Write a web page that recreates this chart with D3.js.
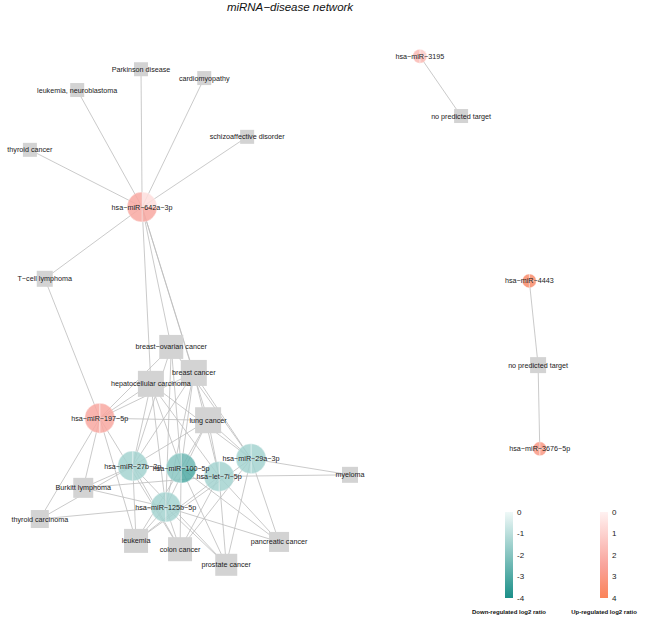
<!DOCTYPE html>
<html><head><meta charset="utf-8">
<script src="https://cdn.jsdelivr.net/npm/d3@7"></script>
<style>
body{margin:0;background:#fff}
svg{display:block}
text{font-family:"Liberation Sans",Arial,Helvetica,sans-serif}
</style>
</head><body>
<svg id="chart" width="648" height="624"></svg>
<script>
// ---------------- data ----------------
const mirnas = ["hsa−miR−642a−3p","hsa−miR−197−5p","hsa−miR−27b−3p","hsa−miR−100−5p",
  "hsa−let−7i−5p","hsa−miR−29a−3p","hsa−miR−125b−5p","hsa−miR−3195","hsa−miR−4443","hsa−miR−3676−5p"];
// log2 ratio per quadrant (clockwise from 12 o'clock)
const mirnaRatios = [
  [0.6,2.3,2.3,2.3],
  [2.3,2.3,2.3,2.3],
  [-1.4,-1.4,-1.4,-1.4],
  [-2.4,-3.0,-1.9,-1.9],
  [-1.4,-1.4,-1.4,-1.4],
  [-1.4,-1.4,-1.4,-1.4],
  [-1.4,-1.4,-1.4,-1.4],
  [1.2,1.8,1.8,1.8],
  [3.6,3.6,3.6,3.6],
  [3.0,3.0,3.0,3.0]
];
// network layout coordinates (0-100 layout space)
const mirnaLayoutX = [22.2,14.5,20.5,29.3,36.2,42.0,26.5,72.7,92.6,94.5];
const mirnaLayoutY = [30.2,70.8,80.0,80.4,82.0,78.6,87.9,1.2,44.4,76.7];

const diseases = ["Parkinson disease","cardiomyopathy","leukemia, neuroblastoma","schizoaffective disorder",
  "thyroid cancer","T−cell lymphoma","breast−ovarian cancer","breast cancer","hepatocellular carcinoma",
  "lung cancer","myeloma","Burkitt lymphoma","thyroid carcinoma","leukemia","colon cancer",
  "pancreatic cancer","prostate cancer","no predicted target","no predicted target"];
const diseaseLayoutX = [22.0,33.5,10.4,41.3,1.8,4.5,27.5,31.6,23.8,34.2,60.0,11.5,3.6,21.1,29.1,47.1,37.5,80.2,94.2];
const diseaseLayoutY = [3.7,5.4,7.7,16.7,19.2,44.0,57.1,62.1,64.2,71.2,81.7,84.2,90.2,94.4,96.0,94.6,99.0,12.7,60.6];

// miRNA index -> associated disease indices
const associations = [
  [0,1,2,3,4,5,6,7,8,9],
  [5,6,7,8,9,11,12,13,14],
  [6,7,8,9,11,12,13,14,16],
  [6,7,8,9,13,14,15,16],
  [7,8,9,10,11,13,14,15,16],
  [6,7,8,9,10,13,14,15,16],
  [6,7,8,9,11,12,13,14,15,16],
  [17],
  [18],
  [18]
];

const downTicks = [0,-1,-2,-3,-4];
const upTicks = [0,1,2,3,4];

// ---------------- drawing ----------------
const svg = d3.select("#chart");
const x = d3.scaleLinear().domain([0,100]).range([20,570]);
const y = d3.scaleLinear().domain([0,100]).range([50,570]);

const downColor = d3.scaleLinear().domain([-4,0]).range(["#1b8f88","#f0f9f8"]);
const upColor = d3.scaleLinear().domain([0,2.5,4]).range(["#fff1f1","#f9a39b","#fb8459"]);
const color = v => v < 0 ? downColor(v) : upColor(v);

const mirnaNodes = mirnas.map((name,i)=>({name, x:x(mirnaLayoutX[i]), y:y(mirnaLayoutY[i]), ratios:mirnaRatios[i], deg:associations[i].length}));
const diseaseNodes = diseases.map((name,i)=>({name, x:x(diseaseLayoutX[i]), y:y(diseaseLayoutY[i]), deg:0}));
const links = [];
associations.forEach((arr,i)=>arr.forEach(j=>{links.push({s:mirnaNodes[i], t:diseaseNodes[j]}); diseaseNodes[j].deg++;}));

const squareSize = d3.scaleLinear().domain([1,7]).range([14,26]);
const radius = d3.scaleLinear().domain([1,4]).range([7,15]).clamp(true);

// title
svg.append("text").attr("x",290).attr("y",11).attr("text-anchor","middle")
  .attr("font-size",11.5).attr("font-style","italic").attr("fill","#111").text("miRNA−disease network");

// edges
svg.append("g").selectAll("line").data(links).join("line")
  .attr("x1",d=>d.s.x).attr("y1",d=>d.s.y).attr("x2",d=>d.t.x).attr("y2",d=>d.t.y)
  .attr("stroke","#bdbdbd").attr("stroke-width",0.8);

// disease squares
svg.append("g").selectAll("rect").data(diseaseNodes).join("rect")
  .attr("x",d=>d.x-squareSize(d.deg)/2).attr("y",d=>d.y-squareSize(d.deg)/2)
  .attr("width",d=>squareSize(d.deg)).attr("height",d=>squareSize(d.deg))
  .attr("fill","#d3d3d3");

// miRNA pies
const pie = d3.pie().sort(null).value(()=>1);
const mg = svg.append("g").selectAll("g").data(mirnaNodes).join("g")
  .attr("transform",d=>`translate(${d.x},${d.y})`).attr("opacity",0.85);
mg.each(function(d){
  const arc = d3.arc().innerRadius(0).outerRadius(radius(d.deg));
  d3.select(this).selectAll("path").data(pie(d.ratios)).join("path")
    .attr("d",arc).attr("fill",p=>color(p.data))
    .attr("stroke","#ffffff").attr("stroke-width",0.4);
});

// labels
const allNodes = diseaseNodes.concat(mirnaNodes);
svg.append("g").selectAll("text").data(allNodes).join("text")
  .attr("x",d=>d.x).attr("y",d=>d.y).attr("dy","0.35em")
  .attr("text-anchor","middle").attr("font-size",7.2).attr("fill","#1a1a1a")
  .text(d=>d.name);

// legends
const defs = svg.append("defs");
function colorbar(id, scale, ticks, x0, title){
  const yb = d3.scaleLinear().domain([ticks[0], ticks[ticks.length-1]]).range([512,598]);
  const grad = defs.append("linearGradient").attr("id",id).attr("x1",0).attr("y1",0).attr("x2",0).attr("y2",1);
  d3.range(0,1.0001,0.05).forEach(t=>{
    const v = ticks[0] + t*(ticks[ticks.length-1]-ticks[0]);
    grad.append("stop").attr("offset",t).attr("stop-color",scale(v));
  });
  svg.append("rect").attr("x",x0).attr("y",yb.range()[0]).attr("width",8)
    .attr("height",yb.range()[1]-yb.range()[0]).attr("fill",`url(#${id})`);
  svg.append("g").selectAll("text").data(ticks).join("text")
    .attr("x",x0+12).attr("y",d=>yb(d)).attr("dy","0.35em")
    .attr("font-size",8).attr("fill","#222").text(d=>d===0?"0":(d<0?"-"+Math.abs(d):d));
  svg.append("text").attr("x",x0+4).attr("y",614).attr("text-anchor","middle")
    .attr("font-size",6).attr("font-weight","bold").attr("fill","#111").text(title);
}
colorbar("gdown", downColor, downTicks, 505, "Down-regulated log2 ratio");
colorbar("gup", upColor, upTicks, 600, "Up-regulated log2 ratio");
</script>
</body></html>
